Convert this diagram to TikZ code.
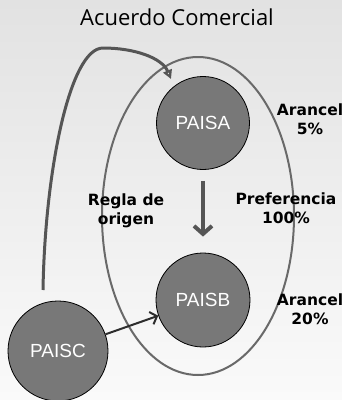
\documentclass[tikz,border=0pt]{standalone}
\usepackage{fontspec}
\setmainfont{Liberation Sans}
\newfontfamily\titlefont{Open Sans}
\newfontfamily\labfont{DejaVu Sans}
\usetikzlibrary{arrows.meta}
\definecolor{bgtop}{RGB}{226,226,226}
\definecolor{bgbot}{RGB}{250,250,250}
\definecolor{cfill}{RGB}{120,120,120}
\definecolor{ringc}{RGB}{105,105,105}
\definecolor{arrc}{RGB}{85,85,85}
\definecolor{arrd}{RGB}{45,45,45}
\tikzset{
  pais/.style={circle,fill=cfill,draw=black,line width=0.8pt,minimum size=#1,inner sep=0pt,
    text=white,font=\fontsize{19}{19}\selectfont},
  lab/.style={font=\labfont\bfseries\fontsize{15.5}{19}\selectfont,align=center,text=black},
}
\begin{document}
\begin{tikzpicture}[x=1pt,y=-1pt]
\shade[top color=bgtop,bottom color=bgbot] (0,0) rectangle (342,400);
\useasboundingbox (0,0) rectangle (342,400);
\node[font=\titlefont\fontsize{22}{22}\selectfont] (title) at (177,17) {Acuerdo Comercial};
\draw[ringc,line width=2pt] (198,216) ellipse [x radius=96,y radius=159];
\node[pais=93pt] (A) at (203,123) {PAISA};
\node[pais=94pt] (B) at (203,300) {PAISB};
\node[pais=100pt] (C) at (58,351) {PAISC};
\coordinate (s) at (43,290);
\coordinate (m) at (103,48);
\coordinate (t) at (171,79);
\draw[arrc,line width=3pt,-{Triangle[open,length=9pt,width=9pt,line width=2.5pt]}]
  (s) .. controls (45,170) and (70,48) .. (m) .. controls (135,48) and (162,58) .. (t);
\draw[arrc,line width=4pt,-{Straight Barb[length=8pt,width=18pt,line width=4pt]}] (A.south) ++(0,11) -- ([yshift=16pt]B.north);
\draw[arrd,line width=2pt,-{Straight Barb[length=6pt,width=13pt,line width=2pt]}] (C) -- (B);
\node[lab] (ar1) at (310,119) {Arancel\\5\%};
\node[lab] (pref) at (286,208) {Preferencia\\100\%};
\node[lab] (regla) at (126,211) {Regla de\\origen};
\node[lab] (ar2) at (310,309) {Arancel\\20\%};
\end{tikzpicture}
\end{document}
